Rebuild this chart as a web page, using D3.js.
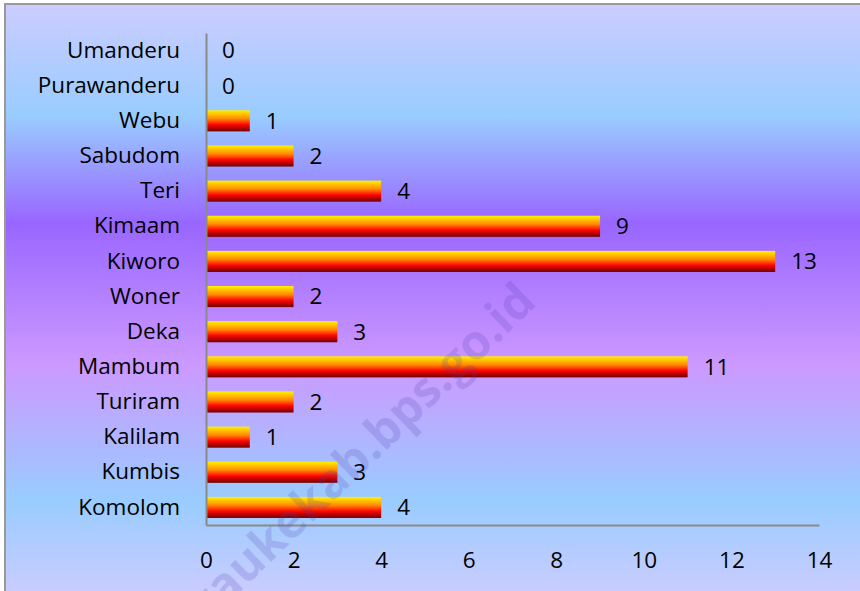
<!DOCTYPE html>
<html>
<head>
<meta charset="utf-8">
<script src="https://cdn.jsdelivr.net/npm/d3@7/dist/d3.min.js"></script>
<style>
  html, body { margin: 0; padding: 0; background: #ffffff; }
  svg { display: block; }
  text { font-family: "Open Sans", sans-serif; }
</style>
</head>
<body>
<svg id="chart" width="860" height="591"></svg>
<script>
const categories = ["Umanderu","Purawanderu","Webu","Sabudom","Teri","Kimaam","Kiworo","Woner","Deka","Mambum","Turiram","Kalilam","Kumbis","Komolom"];
const values = [0,0,1,2,4,9,13,2,3,11,2,1,3,4];
const tickValues = [0,2,4,6,8,10,12,14];
const watermark = "meraukekab.bps.go.id";

const svg = d3.select("#chart");
const W = 860, H = 591;
const defs = svg.append("defs");

const bg = defs.append("linearGradient").attr("id", "bg")
  .attr("x1", 0).attr("y1", 0).attr("x2", 0).attr("y2", 1);
[[0, "#ccccff"], [0.19, "#99ccff"], [0.37, "#9966ff"], [0.61, "#cc99ff"], [0.84, "#99ccff"], [1, "#ccccff"]]
  .forEach(([o, c]) => bg.append("stop").attr("offset", o).attr("stop-color", c));

const fire = defs.append("linearGradient").attr("id", "fire")
  .attr("x1", 0).attr("y1", 0).attr("x2", 0).attr("y2", 1);
[[0, "#fff200"], [0.4, "#ff8a00"], [0.68, "#ff0500"], [1, "#700000"]]
  .forEach(([o, c]) => fire.append("stop").attr("offset", o).attr("stop-color", c));

// chart area background
svg.append("rect").attr("x", 5).attr("y", 4).attr("width", W).attr("height", H)
  .attr("fill", "url(#bg)");
svg.append("line").attr("x1", 5).attr("x2", 5).attr("y1", 4).attr("y2", H)
  .attr("stroke", "#999999").attr("stroke-width", 2);
svg.append("line").attr("x1", 4).attr("x2", W).attr("y1", 4).attr("y2", 4)
  .attr("stroke", "#999999").attr("stroke-width", 2);

const x = d3.scaleLinear().domain([0, 14]).range([206, 819]);
const y = d3.scaleBand().domain(categories).range([33, 525])
  .paddingInner(0.4).paddingOuter(0.2);

// bars
svg.append("g").selectAll("rect").data(categories).join("rect")
  .attr("x", x(0))
  .attr("y", d => y(d))
  .attr("width", (d, i) => x(values[i]) - x(0))
  .attr("height", y.bandwidth())
  .attr("fill", "url(#fire)");

// value labels
svg.append("g").selectAll("text").data(categories).join("text")
  .attr("x", (d, i) => x(values[i]) + 16)
  .attr("y", d => y(d) + y.bandwidth() / 2)
  .attr("dy", "0.35em")
  .attr("font-size", 22.5)
  .attr("fill", "#000")
  .text((d, i) => values[i]);

// axes
const xAxis = svg.append("g").attr("transform", "translate(0,525)")
  .call(d3.axisBottom(x).tickValues(tickValues).tickSize(0).tickSizeOuter(0).tickPadding(27));
const yAxis = svg.append("g").attr("transform", "translate(206,0)")
  .call(d3.axisLeft(y).tickSize(0).tickSizeOuter(0).tickPadding(26));
[xAxis, yAxis].forEach(a => {
  a.select(".domain").attr("stroke", "#8a8a8a").attr("stroke-width", 2);
  a.selectAll("text").attr("font-size", 22.5).attr("fill", "#000")
    .attr("font-family", "'Open Sans', sans-serif");
});

// watermark
svg.append("text")
  .attr("transform", "translate(538,304) rotate(-44)")
  .attr("text-anchor", "end")
  .attr("font-size", 48)
  .attr("font-weight", "bold")
  .attr("fill", "rgba(80,60,170,0.19)")
  .text(watermark);
</script>
</body>
</html>
